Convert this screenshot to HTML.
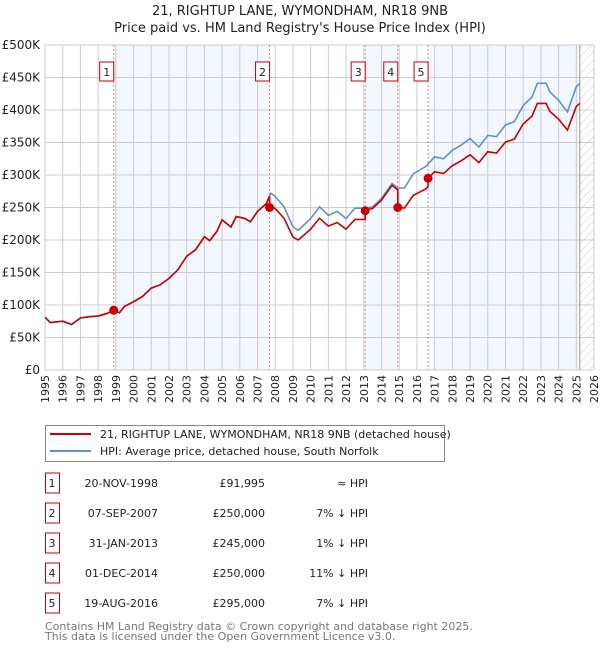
<!DOCTYPE html>
<html><head><meta charset="utf-8"><style>
body{margin:0;background:#fff;font-family:"Liberation Sans","DejaVu Sans",sans-serif;}
svg text{font-family:"DejaVu Sans","Liberation Sans",sans-serif;}
</style></head><body>
<svg id="c" width="600" height="650" viewBox="0 0 600 650" xmlns="http://www.w3.org/2000/svg">
<defs><pattern id="hatch" width="6" height="6" patternUnits="userSpaceOnUse" patternTransform="rotate(45)"><line x1="0" y1="0" x2="0" y2="6" stroke="#ccc" stroke-width="1"/></pattern></defs>
<text x="300" y="15" text-anchor="middle" font-size="13" fill="#222">21, RIGHTUP LANE, WYMONDHAM, NR18 9NB</text>
<text x="300" y="32" text-anchor="middle" font-size="13" fill="#222">Price paid vs. HM Land Registry's House Price Index (HPI)</text>
<g id="plot"></g>
<g>
<rect x="45.5" y="425.5" width="399" height="36" fill="#fff" stroke="#888"/>
<line x1="50" y1="434" x2="91" y2="434" stroke="#cc0000" stroke-width="2"/>
<text x="100" y="438" font-size="11" fill="#222">21, RIGHTUP LANE, WYMONDHAM, NR18 9NB (detached house)</text>
<line x1="50" y1="451" x2="91" y2="451" stroke="#6090d0" stroke-width="2"/>
<text x="100" y="455" font-size="11" fill="#222">HPI: Average price, detached house, South Norfolk</text>
</g>
<g id="table"></g>
<text x="45" y="630" font-size="11" fill="#777">Contains HM Land Registry data © Crown copyright and database right 2025.</text>
<text x="45" y="640" font-size="11" fill="#777">This data is licensed under the Open Government Licence v3.0.</text>
</svg>
<script>
const hpiYears=[1995,1995.3,1996,1996.5,1997,1997.5,1998,1998.5,1998.9,1999.2,1999.5,2000,2000.5,2001,2001.5,2002,2002.5,2003,2003.5,2004,2004.3,2004.7,2005,2005.5,2005.8,2006.3,2006.6,2007,2007.5,2007.75,2008,2008.5,2009,2009.3,2009.5,2010,2010.5,2011,2011.5,2012,2012.5,2013.1,2013.5,2014,2014.6,2014.9,2015.3,2015.8,2016.5,2017,2017.5,2018,2018.5,2019,2019.5,2020,2020.5,2021,2021.5,2022,2022.5,2022.8,2023.3,2023.5,2024,2024.5,2025,2025.2];
const hpiValues=[81,73,75,70,80,82,83,87,92,88,98,105,113,126,131,141,154,175,185,205,199,213,231,220,236,233,228,244,256,272,267,251,220,215,220,233,251,238,244,233,249,249,251,264,287,280,280,302,313,328,325,338,346,356,343,361,359,377,382,407,420,441,441,428,415,397,436,441];
const saleYears=[1998.88,2007.68,2013.08,2014.92,2016.63];
const salePrices=[91995,250000,245000,250000,295000];
const saleLabels=["1","2","3","4","5"];
const saleDates=["20-NOV-1998","07-SEP-2007","31-JAN-2013","01-DEC-2014","19-AUG-2016"];
const salePriceText=["£91,995","£250,000","£245,000","£250,000","£295,000"];
const saleHpiText=["≈ HPI","7% ↓ HPI","1% ↓ HPI","11% ↓ HPI","7% ↓ HPI"];
const saleHpiDiff=[0,-0.07,-0.01,-0.11,-0.07];
const yTicks=[0,50,100,150,200,250,300,350,400,450,500];
const yTickLabels=["£0","£50K","£100K","£150K","£200K","£250K","£300K","£350K","£400K","£450K","£500K"];
const xTicks=[1995,1996,1997,1998,1999,2000,2001,2002,2003,2004,2005,2006,2007,2008,2009,2010,2011,2012,2013,2014,2015,2016,2017,2018,2019,2020,2021,2022,2023,2024,2025,2026];

const L=45,R=594,T=45,B=370,X0=1995,X1=2026,dataEnd=2025.2;
const X=v=>L+(v-X0)/(X1-X0)*(R-L);
const Y=v=>B-v/500*(B-T);
const NS="http://www.w3.org/2000/svg";
const g=document.getElementById('plot');
function mk(t,a,p){const e=document.createElementNS(NS,t);for(const k in a)e.setAttribute(k,a[k]);(p||g).appendChild(e);return e;}

for(let i=0;i<saleYears.length;i+=2){
  const x1=X(saleYears[i]),x2=i+1<saleYears.length?X(saleYears[i+1]):X(dataEnd);
  const r=mk('rect',{x:x1,y:T,width:x2-x1,height:B-T,fill:'#eef3fc',opacity:0.75});
  
  
}
const h=mk('rect',{x:X(dataEnd),y:T,width:R-X(dataEnd),height:B-T,fill:'url(#hatch)'});


xTicks.forEach(t=>{
  const l=mk('line',{x1:X(t),x2:X(t),y1:T,y2:B,stroke:'#ccc','stroke-width':1});
  
  
  const tx=mk('text',{x:0,y:0,transform:`translate(${X(t)+4},${B+5}) rotate(-90)`,'text-anchor':'end','font-size':11,fill:'#222'});
  tx.textContent=t;
  
  
});
yTicks.forEach((t,i)=>{
  const l=mk('line',{x1:L,x2:R,y1:Y(t),y2:Y(t),stroke:'#ccc','stroke-width':1});
  
  
  const tx=mk('text',{x:L-5,y:Y(t)+4,'text-anchor':'end','font-size':12,fill:'#222'});
  tx.textContent=yTickLabels[i];
  
  
});
const el=mk('line',{x1:X(dataEnd),x2:X(dataEnd),y1:T,y2:B,stroke:'#999','stroke-width':1});


saleYears.forEach((s,i)=>{
  const l=mk('line',{x1:X(s),x2:X(s),y1:T,y2:B,stroke:'#f08080','stroke-width':1,'stroke-dasharray':'2,2'});
  
  
  const r=mk('rect',{x:X(s)-14,y:62,width:14,height:19,fill:'#fff',stroke:'#cc0000'});
  
  
  const t=mk('text',{x:X(s)-7,y:76,'text-anchor':'middle','font-size':11,fill:'#222'});
  t.textContent=saleLabels[i];
  
  
});
function hpiAt(y){for(let i=0;i<hpiYears.length-1;i++){if(y<=hpiYears[i+1]){const f=(y-hpiYears[i])/(hpiYears[i+1]-hpiYears[i]);return hpiValues[i]+f*(hpiValues[i+1]-hpiValues[i]);}}return hpiValues[hpiValues.length-1];}
const hp=mk('polyline',{points:hpiYears.map((y,i)=>X(y)+','+Y(hpiValues[i])).join(' '),fill:'none',stroke:'#6090d0','stroke-width':1.6});


function seg(y){let k=0;saleYears.forEach((s,i)=>{if(y>=s)k=i;});return k;}
const pts=[];
hpiYears.forEach((y,i)=>{
  const k=seg(y);
  if(k>0&&saleYears[k]>hpiYears[i-1]&&saleYears[k]<=y){
    const pk=k-1;pts.push([saleYears[k],hpiAt(saleYears[k])*(1+saleHpiDiff[pk])]);
    pts.push([saleYears[k],salePrices[k]/1000]);
  }
  pts.push([y,hpiValues[i]*(1+saleHpiDiff[k])]);
});
const pl=mk('polyline',{points:pts.map(p=>X(p[0])+','+Y(p[1])).join(' '),fill:'none',stroke:'#cc0000','stroke-width':1.6});


saleYears.forEach((s,i)=>{
  const c=mk('circle',{cx:X(s),cy:Y(salePrices[i]/1000),r:4.5,fill:'#cc0000'});
  
  
});
const tb=document.getElementById('table');
saleLabels.forEach((lb,i)=>{
  const cy=483+i*30;
  const r=mk('rect',{x:45.5,y:cy-10,width:14,height:20,fill:'#fff',stroke:'#cc0000'},tb);
  
  
  const cells=[[52,'middle',lb,'table-row-number'],[158,'end',saleDates[i],'table-date'],[265,'end',salePriceText[i],'table-price'],[368,'end',saleHpiText[i],'table-hpi-diff']];
  cells.forEach(c=>{
    const t=mk('text',{x:c[0],y:cy+4,'text-anchor':c[1],'font-size':11,fill:'#222'},tb);
    t.textContent=c[2];
    
    
  });
});
</script>
</body></html>
